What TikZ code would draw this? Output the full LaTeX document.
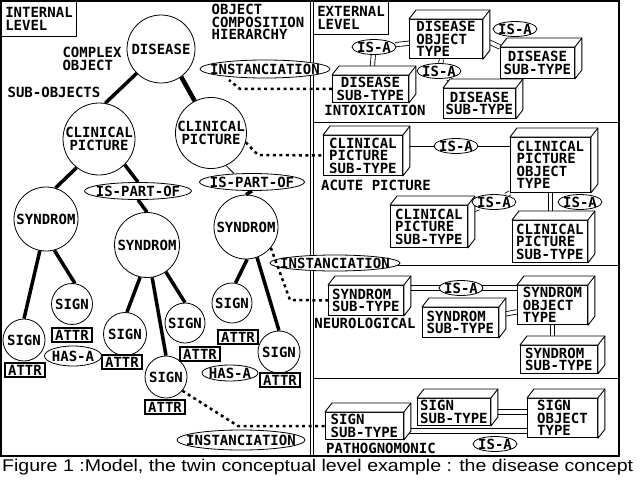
\documentclass[tikz,border=0pt]{standalone}
\usepackage{fontspec}
\newfontfamily\pixfam{DejaVu Sans Mono}
\newfontfamily\capfam{Liberation Sans}
\newcommand{\pixfont}{\pixfam\bfseries\fontsize{14}{12.5}\selectfont}
\usetikzlibrary{shapes.geometric,arrows.meta,calc,backgrounds}

\tikzset{
  circ/.style={circle,draw,fill=white,inner sep=0pt,line width=0.8pt,align=center},
  attr/.style={draw,line width=1.3pt,fill=white,inner sep=1.5pt,minimum width=40pt,minimum height=14pt},
  lab/.style={ellipse,draw,fill=white,inner sep=0pt,line width=0.8pt},
  tree/.style={line width=3.5pt},
  inst/.style={line width=2.5pt,dash pattern=on 3pt off 3.5pt},
  isa/.style={double,double distance=3.5pt,line width=0.8pt},
  link/.style={line width=0.8pt},
  tbox/.style={draw,fill=white,line width=0.9pt,anchor=north west,inner sep=2pt,align=left},
  hdr/.style={draw,line width=1pt,anchor=north west,align=left,inner sep=3pt},
}

% 3D object box: name, front top-left, width, height, text
\newcommand{\typebox}[6][]{%
  \node[tbox,minimum width=#4,minimum height=#5,#1] (#2) at (#3) {#6};
  \draw[line width=0.9pt,fill=white,line join=round] (#2.north west) -- ++(7,-9)
    -- ($(#2.north east)+(7,-9)$) -- ($(#2.south east)+(7,-9)$) -- (#2.south east)
    -- (#2.north east) -- cycle;
  \draw[line width=0.9pt] (#2.north east) -- ++(7,-9);
}

\begin{document}
\begin{tikzpicture}[x=1pt,y=-1pt,font=\pixfont]
\useasboundingbox (0,0) rectangle (640,482);
%% frame and panels
\draw[line width=1.2pt] (1,1) rectangle (619,456);
\draw[line width=1pt] (310,1) -- (310,456) (313,1) -- (313,456);
\foreach \y in {122,265,378}
  \draw[line width=1pt] (313,\y) -- (619,\y);

%% headers and notes
\node[hdr,minimum width=75pt,minimum height=35pt] (intl) at (1,1) {INTERNAL\\LEVEL};
\node[hdr,minimum width=75pt,minimum height=33pt] (extl) at (313,1) {EXTERNAL\\LEVEL};
\node[align=left] (och) at (258,22) {OBJECT\\COMPOSITION\\HIERARCHY};
\node[align=left] (cplx) at (92,59) {COMPLEX\\OBJECT};
\node (subo) at (54,92) {SUB-OBJECTS};

%% internal level: composition tree
\node[circ,minimum size=68pt] (dis) at (161,49) {DISEASE};
\node[circ,minimum size=72pt] (cpl) at (99,139) {CLINICAL\\PICTURE};
\node[circ,minimum size=70pt] (cpr) at (211,133) {CLINICAL\\PICTURE};
\node[circ,minimum size=64pt] (syl) at (46,219) {SYNDROM};
\node[circ,minimum size=65pt] (sym) at (147,245) {SYNDROM};
\node[circ,minimum size=64pt] (syr) at (246,227) {SYNDROM};
\foreach \n/\x/\y/\d in {1/24/340/42, 2/72/304/41, 3/125/334/43, 4/166/377/42,
                         5/185/323/40, 6/232/303/40, 7/279/352/42}
  \node[circ,minimum size=\d pt] (sg\n) at (\x,\y) {SIGN};
\foreach \n/\x/\y in {1/25/370, 2/72/335, 3/122/362, 4/165/407, 5/200/354, 6/238/337, 7/280/380}
  \node[attr] (at\n) at (\x,\y) {ATTR};

\node[lab,minimum width=107pt,minimum height=17pt] (ipl) at (138,191) {\makebox[0pt]{IS-PART-OF}};
\node[lab,minimum width=105pt,minimum height=17pt] (ipr) at (252,182) {\makebox[0pt]{IS-PART-OF}};
\node[lab,minimum width=57pt,minimum height=20pt] (has1) at (73,356) {\makebox[0pt]{HAS-A}};
\node[lab,minimum width=56pt,minimum height=16pt] (has2) at (230,373) {\makebox[0pt]{HAS-A}};

\draw[tree] (dis.-135) -- (cpl.80);
\draw[tree,line width=4.5pt] (dis.-54) -- (cpr.117);
\draw[tree] (cpl.-128) -- (syl.73);
\draw[tree] (cpl.-45) -- (ipl.north);
\draw[tree] (ipl.south) -- (sym.north);
\draw[link] (cpr.-65) -- (ipr.155);
\draw[tree] (ipr.south) -- (syr.north);
\draw[tree] (syl.-101) -- (sg1.north);
\draw[tree] (syl.-75) -- (sg2.82);
\draw[tree] (sym.-102) -- (sg3.85);
\draw[tree] (sym.-81) -- (sg4.north);
\draw[tree] (sym.-55) -- (sg5.north);
\draw[tree] (syr.-88) -- (sg6.80);
\draw[tree] (syr.-70) -- (sg7.north);

%% external level: object types
\typebox{d0}{409,19}{73pt}{39pt}{DISEASE\\OBJECT\\TYPE}
\typebox[align=center]{d1}{332,75}{76pt}{27pt}{DISEASE\\SUB-TYPE}
\typebox[align=center]{d2}{500,47}{74pt}{31pt}{DISEASE\\SUB-TYPE}
\typebox[align=center]{d3}{443,88}{72pt}{30pt}{DISEASE\\SUB-TYPE}
\typebox{c0}{510,137}{80pt}{55pt}{CLINICAL\\PICTURE\\OBJECT\\TYPE}
\typebox{c1}{323,135}{79pt}{40pt}{CLINICAL\\PICTURE\\SUB-TYPE}
\typebox{c3}{390,205}{77pt}{42pt}{CLINICAL\\PICTURE\\SUB-TYPE}
\typebox{c2}{512,220}{75pt}{42pt}{CLINICAL\\PICTURE\\SUB-TYPE}
\typebox{s0}{517,285}{70pt}{38pt}{SYNDROM\\OBJECT\\TYPE}
\typebox{s1}{328,285}{75pt}{30pt}{SYNDROM\\SUB-TYPE}
\typebox{s2}{422,307}{76pt}{30pt}{SYNDROM\\SUB-TYPE}
\typebox{s3}{520,345}{77pt}{28pt}{SYNDROM\\SUB-TYPE}
\typebox{g0}{527,398}{70pt}{36pt}{SIGN\\OBJECT\\TYPE}
\typebox{g1}{325,412}{78pt}{26pt}{SIGN\\SUB-TYPE}
\typebox{g2}{417,398}{73pt}{25pt}{SIGN\\SUB-TYPE}

\foreach \n/\x/\y in {1/515/29, 2/374/47, 3/439/71, 4/456/146, 5/494/202, 6/580/202, 7/461/288, 8/495/444}
  \node[lab,minimum width=44pt,minimum height=13pt] (i\n) at (\x,\y) {\makebox[0pt]{IS-A}};

\node (intox) at (375,110) {INTOXICATION};
\node (acute) at (376,185) {ACUTE PICTURE};
\node (neuro) at (365,323) {NEUROLOGICAL};
\node (patho) at (381,448) {PATHOGNOMONIC};

\begin{scope}[on background layer]
  \draw[isa] (d0.east) -- (d2.north west);
  \draw[isa] (d0) -- (i2) -- (d1);
  \draw[isa] (d0) -- (i3) -- (d3);
  \draw[link] (i4 -| c1) -- (i4 -| c0);
  \draw[isa] (c0.south west) -- (i5) -- (c3);
  \draw[isa] (c0.south) -- (c0.south |- c2.north);
  \draw[isa] (i7 -| s1) -- (i7 -| s0);
  \draw[isa] (s2) -- (s0);
  \draw[isa] (s0.south) -- (s0.south |- s3.north);
  \draw[isa] (g2) -- (g2 -| g0);
  \draw[isa] ([yshift=-5pt]g1.east) -- ++(130,0);
\end{scope}

%% instanciation links
\node[lab,minimum width=130pt,minimum height=18pt] (ins1) at (265,69) {\makebox[0pt]{INSTANCIATION}};
\node[lab,minimum width=130pt,minimum height=16pt] (ins2) at (335,263) {\makebox[0pt]{INSTANCIATION}};
\node[lab,minimum width=128pt,minimum height=20pt] (ins3) at (241,440) {\makebox[0pt]{INSTANCIATION}};
\coordinate (k1) at (240,88);
\coordinate (e1) at (229,80);
\coordinate (k2) at (258,155);
\coordinate (k3) at (290,300);
\coordinate (k4) at (238,426);
\draw[inst] (d1.west) -- (d1.west -| k1) -- (e1);
\draw[inst] (cpr.-15) -- (k2) -- (c1.west);
\draw[inst] (syr.-40) -- (k3) -- (s1.west);
\draw[inst] (sg4.-40) -- (k4) -- (g1.west);

%% caption
\node[anchor=base west,inner sep=0pt,font=\capfam\fontsize{17}{20}\selectfont] (cap) at (2,471)
  {\scalebox{1.15}[1]{Figure 1 :Model, the twin conceptual level example : the disease concept}};
\end{tikzpicture}
\end{document}
